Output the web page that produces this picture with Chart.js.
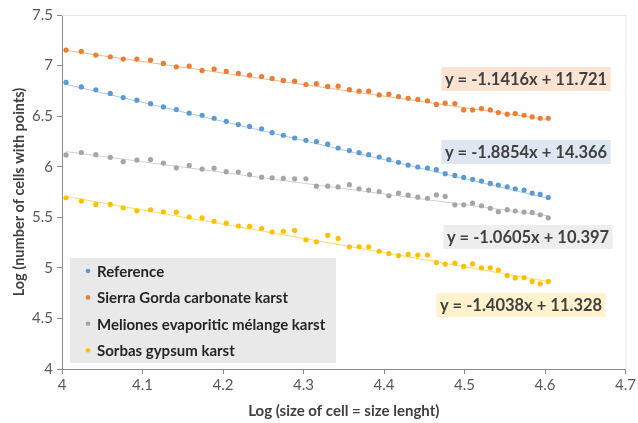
<!DOCTYPE html>
<html>
<head>
<meta charset="utf-8">
<script src="https://cdn.jsdelivr.net/npm/chart.js@4.4.0/dist/chart.umd.min.js"></script>
<style>
  html, body { margin: 0; padding: 0; background: #fff; }
  #wrap { width: 638px; height: 423px; }
</style>
</head>
<body>
<div id="wrap"><canvas id="fractal" width="638" height="423"></canvas></div>
<script>
// --- DATOS ---
const logSize = [
  4.005, 4.024, 4.042, 4.060, 4.076, 4.093, 4.110, 4.126, 4.142, 4.158,
  4.174, 4.189, 4.204, 4.219, 4.233, 4.248, 4.261, 4.275, 4.289, 4.303,
  4.316, 4.330, 4.343, 4.357, 4.369, 4.381, 4.394, 4.406, 4.418, 4.430,
  4.442, 4.454, 4.465, 4.476, 4.488, 4.499, 4.510, 4.521, 4.532, 4.542,
  4.553, 4.563, 4.574, 4.584, 4.594, 4.604
];

const referenceY = [
  6.833, 6.789, 6.760, 6.725, 6.684, 6.658, 6.623, 6.591, 6.565, 6.529,
  6.509, 6.479, 6.449, 6.417, 6.398, 6.375, 6.337, 6.311, 6.284, 6.261,
  6.248, 6.223, 6.185, 6.160, 6.139, 6.119, 6.096, 6.070, 6.043, 6.016,
  5.997, 5.987, 5.971, 5.931, 5.914, 5.894, 5.875, 5.858, 5.835, 5.818,
  5.802, 5.782, 5.769, 5.739, 5.726, 5.696
];

const sierraGordaY = [
  7.153, 7.140, 7.104, 7.087, 7.064, 7.064, 7.054, 7.021, 6.988, 6.995,
  6.952, 6.965, 6.942, 6.922, 6.905, 6.892, 6.873, 6.853, 6.846, 6.813,
  6.821, 6.794, 6.796, 6.762, 6.747, 6.747, 6.710, 6.717, 6.694, 6.677,
  6.665, 6.651, 6.616, 6.628, 6.625, 6.561, 6.561, 6.575, 6.561, 6.536,
  6.519, 6.526, 6.509, 6.492, 6.479, 6.479
];

const melionesY = [
  6.117, 6.140, 6.119, 6.093, 6.050, 6.066, 6.071, 6.036, 5.989, 6.013,
  5.977, 5.986, 5.951, 5.947, 5.922, 5.897, 5.890, 5.885, 5.880, 5.880,
  5.808, 5.808, 5.800, 5.822, 5.782, 5.769, 5.754, 5.713, 5.738, 5.719,
  5.699, 5.688, 5.721, 5.706, 5.623, 5.623, 5.640, 5.614, 5.589, 5.555,
  5.575, 5.562, 5.552, 5.548, 5.525, 5.495
];

const sorbasY = [
  5.693, 5.660, 5.627, 5.627, 5.594, 5.564, 5.574, 5.554, 5.551, 5.503,
  5.495, 5.460, 5.442, 5.414, 5.411, 5.389, 5.356, 5.362, 5.371, 5.277,
  5.257, 5.322, 5.292, 5.208, 5.208, 5.208, 5.164, 5.141, 5.121, 5.133,
  5.126, 5.126, 5.052, 5.037, 5.046, 5.014, 5.039, 5.000, 5.000, 4.978,
  4.925, 4.900, 4.903, 4.866, 4.842, 4.866
];

const seriesNames = [
  'Reference',
  'Sierra Gorda carbonate karst',
  'Meliones evaporitic mélange karst',
  'Sorbas gypsum karst'
];

// Ecuaciones de tendencia tal como aparecen en el gráfico
const trendSlope = [-1.8854, -1.1416, -1.0605, -1.4038];
const trendIntercept = [14.366, 11.721, 10.397, 11.328];
const trendText = [
  'y = -1.8854x + 14.366',
  'y = -1.1416x + 11.721',
  'y = -1.0605x + 10.397',
  'y = -1.4038x + 11.328'
];

const xTicks = [4, 4.1, 4.2, 4.3, 4.4, 4.5, 4.6, 4.7];
const yTicks = [4, 4.5, 5, 5.5, 6, 6.5, 7, 7.5];

// --- ESTILO ---
const FONT = 'Lato, "Open Sans", sans-serif';
const COLORS = ['#5B9BD5', '#ED7D31', '#A5A5A5', '#FFC000'];
const TREND_COLORS = ['#A9C9EA', '#F5B68C', '#D0D0D0', '#FFD966'];
const LABEL_BG = ['#DEE6F2', '#FBE3D4', '#EDEDED', '#FFF2CC'];
// centro de cada etiqueta de ecuación (px)
const LABEL_POS = [[526, 152], [526, 79], [528, 237], [521, 305]];

const allY = [referenceY, sierraGordaY, melionesY, sorbasY];

// puntos de cada serie
const pointSets = allY.map((ys, i) => ({
    label: seriesNames[i],
    data: logSize.map((x, k) => ({ x, y: ys[k] })),
    showLine: false,
    pointRadius: 2.6,
    pointBorderWidth: 0,
    pointBackgroundColor: COLORS[i],
    borderColor: COLORS[i],
    order: 1
}));

// línea de tendencia (dos extremos)
const xFirst = logSize[0];
const xLast = logSize[logSize.length - 1];
const trendSets = trendSlope.map((m, i) => ({
    label: 'trend ' + i,
    data: [
        { x: xFirst, y: m * xFirst + trendIntercept[i] },
        { x: xLast, y: m * xLast + trendIntercept[i] }
    ],
    showLine: true,
    pointRadius: 0,
    borderWidth: 1,
    borderColor: TREND_COLORS[i],
    order: 2
}));

// ─────────────────────────────────────────────
// Plugin: marco del área, leyenda y ecuaciones
// ─────────────────────────────────────────────
const frameAndLabels = {
    id: 'frameAndLabels',
    beforeDatasetsDraw(chart) {
        const { ctx, chartArea: a } = chart;
        ctx.save();
        ctx.strokeStyle = '#E6E6E6';
        ctx.lineWidth = 1;
        ctx.beginPath();
        ctx.moveTo(a.left, a.top + 0.5);
        ctx.lineTo(a.right + 0.5, a.top + 0.5);
        ctx.lineTo(a.right + 0.5, a.bottom);
        ctx.stroke();
        ctx.restore();
    },
    afterDraw(chart) {
        const { ctx } = chart;
        ctx.save();

        // etiquetas de ecuación
        ctx.font = 'bold 16.5px ' + FONT;
        ctx.textAlign = 'center';
        ctx.textBaseline = 'middle';
        trendText.forEach((t, i) => {
            const [cx, cy] = LABEL_POS[i];
            const w = ctx.measureText(t).width + 7;
            ctx.fillStyle = LABEL_BG[i];
            ctx.fillRect(cx - w / 2, cy - 12, w, 24);
            ctx.fillStyle = '#404040';
            ctx.fillText(t, cx, cy + 1);
        });

        // leyenda
        ctx.fillStyle = '#E9E9E9';
        ctx.fillRect(70, 258, 266, 105);
        ctx.font = 'bold 15px ' + FONT;
        ctx.textAlign = 'left';
        seriesNames.forEach((name, i) => {
            const y = 271 + i * 26.4;
            ctx.fillStyle = COLORS[i];
            ctx.beginPath();
            ctx.arc(88, y, 2.3, 0, Math.PI * 2);
            ctx.fill();
            ctx.fillStyle = '#262626';
            ctx.fillText(name, 97, y + 1);
        });
        ctx.restore();
    }
};

const axisGrid = {
    display: true,
    drawOnChartArea: false,
    drawTicks: true,
    tickLength: 5,
    color: '#8C8C8C'
};

new Chart(document.getElementById('fractal').getContext('2d'), {
    type: 'scatter',
    data: { datasets: [...pointSets, ...trendSets] },
    options: {
        responsive: false,
        animation: false,
        devicePixelRatio: 1,
        layout: { padding: { left: 0, right: 12, top: 15, bottom: 0 } },
        plugins: {
            legend: { display: false },
            tooltip: { enabled: false }
        },
        scales: {
            x: {
                type: 'linear',
                min: 4,
                max: 4.7,
                afterBuildTicks: (s) => { s.ticks = xTicks.map(v => ({ value: v })); },
                afterFit: (s) => { s.height = 54; },
                grid: axisGrid,
                border: { color: '#8C8C8C' },
                ticks: {
                    padding: 2,
                    color: '#595959',
                    font: { family: FONT, size: 15 },
                    callback: (v) => String(v)
                },
                title: {
                    display: true,
                    text: 'Log (size of cell = size lenght)',
                    color: '#404040',
                    font: { family: FONT, size: 15, weight: 'bold' },
                    padding: { top: 0, bottom: 3 }
                }
            },
            y: {
                type: 'linear',
                min: 4,
                max: 7.5,
                afterBuildTicks: (s) => { s.ticks = yTicks.map(v => ({ value: v })); },
                afterFit: (s) => { s.width = 62; },
                grid: axisGrid,
                border: { color: '#8C8C8C' },
                ticks: {
                    padding: 4,
                    color: '#595959',
                    font: { family: FONT, size: 15 },
                    callback: (v) => String(v)
                },
                title: {
                    display: true,
                    text: 'Log (number of cells with points)',
                    color: '#404040',
                    font: { family: FONT, size: 14.5, weight: 'bold' },
                    padding: { top: 11, bottom: 0 }
                }
            }
        }
    },
    plugins: [frameAndLabels]
});
</script>
</body>
</html>
